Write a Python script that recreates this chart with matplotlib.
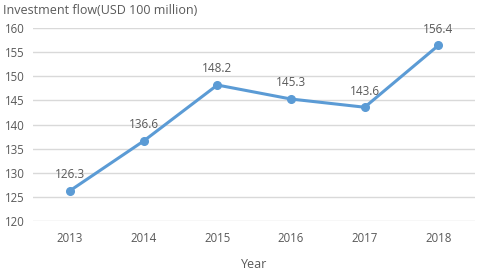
import matplotlib.pyplot as plt

years = ["2013", "2014", "2015", "2016", "2017", "2018"]
flow = [126.3, 136.6, 148.2, 145.3, 143.6, 156.4]
y_ticks = [120, 125, 130, 135, 140, 145, 150, 155, 160]

plt.rcParams['font.family'] = ['Open Sans', 'DejaVu Sans']
text_col = '#595959'

fig = plt.figure(figsize=(4.8, 2.7), dpi=100)
ax = fig.add_axes([0.069, 0.181, 0.921, 0.715])

x = range(len(years))
ax.plot(x, flow, color='#5B9BD5', lw=2.2, marker='o', ms=5.5, zorder=3)
for xi, v in zip(x, flow):
    ax.annotate(f"{v:.1f}", (xi, v), xytext=(0, 7), textcoords='offset points',
                ha='center', va='bottom', fontsize=8.5, color=text_col)

ax.set_xlim(-0.5, len(years) - 0.5)
ax.set_ylim(120, 160)
ax.set_yticks(y_ticks)
ax.set_xticks(list(x))
ax.set_xticklabels(years)
ax.tick_params(length=0, labelsize=8.3, colors=text_col)
ax.tick_params(axis='x', pad=8)
ax.tick_params(axis='y', pad=6)
ax.grid(axis='y', color='#d9d9d9', lw=1)
ax.set_axisbelow(True)
for s in ax.spines.values():
    s.set_visible(False)

ax.set_xlabel('Year', fontsize=9, color=text_col, labelpad=9)
fig.text(0.006, 0.96, 'Investment flow(USD 100 million)', fontsize=9,
         color=text_col, ha='left', va='center')

fig.savefig('out.png', dpi=100)
